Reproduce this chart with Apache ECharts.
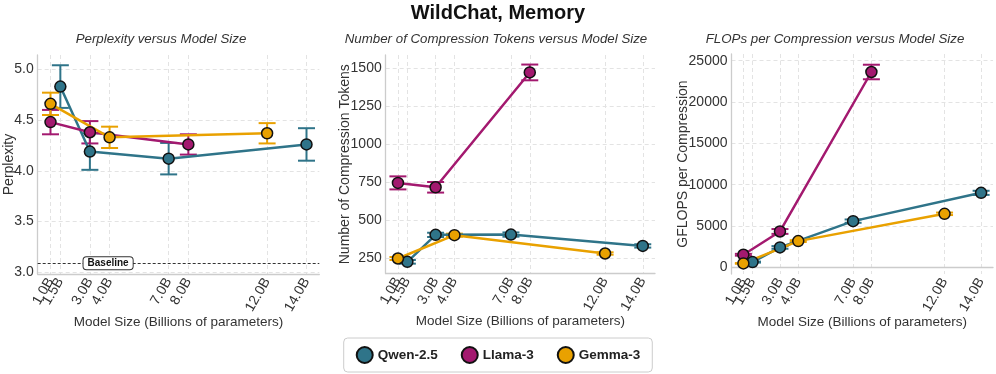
<!DOCTYPE html>
<html><head><meta charset="utf-8">
<script src="https://cdn.jsdelivr.net/npm/echarts@6/dist/echarts.min.js"></script>
<style>html,body{margin:0;padding:0;background:#fff}#c{width:996px;height:374px}</style>
</head><body><div id="c"></div>
<script>
// ---- data ----
const modelNames = ['Qwen-2.5', 'Llama-3', 'Gemma-3'];
const qwenSizes = [1.5, 3, 7, 14];
const llamaSizes = [1, 3, 8];
const gemmaSizes = [1, 4, 12];
const sizeTicks = [1, 1.5, 3, 4, 7, 8, 12, 14];

const qwenPpl = [4.83, 4.19, 4.12, 4.26];
const qwenPplErr = [0.21, 0.18, 0.155, 0.16];
const llamaPpl = [4.48, 4.38, 4.26];
const llamaPplErr = [0.12, 0.11, 0.10];
const gemmaPpl = [4.66, 4.33, 4.37];
const gemmaPplErr = [0.11, 0.105, 0.10];
const baselinePpl = 3.09;

const qwenTok = [224, 402, 404, 329];
const qwenTokErr = [12, 14, 14, 11];
const llamaTok = [745, 716, 1474];
const llamaTokErr = [43, 35, 52];
const gemmaTok = [246, 400, 279];
const gemmaTokErr = [10, 10, 8];

const qwenFlops = [644, 2416, 5596, 9018];
const qwenFlopsErr = [60, 160, 200, 250];
const llamaFlops = [1530, 4348, 23632];
const llamaFlopsErr = [110, 290, 880];
const gemmaFlops = [483, 3181, 6482];
const gemmaFlopsErr = [40, 110, 150];

const pplTicks = [3.0, 3.5, 4.0, 4.5, 5.0];
const tokTicks = [250, 500, 750, 1000, 1250, 1500];
const flopTicks = [0, 5000, 10000, 15000, 20000, 25000];

// ---- styling ----
const colors = {'Qwen-2.5': '#2f7489', 'Llama-3': '#a3196f', 'Gemma-3': '#e9a100'};
const FONT = '"Liberation Sans", Arial, sans-serif';
const TXT = '#333';

function zip(xs, ys, es) { return xs.map((x, i) => [x, ys[i], es[i]]); }

function errRender(color) {
  return function (params, api) {
    const x = api.value(0), y = api.value(1), e = api.value(2);
    const top = api.coord([x, y + e]), bot = api.coord([x, y - e]);
    const cap = 8.5;
    const style = {stroke: color, lineWidth: 2, fill: null};
    return {type: 'group', children: [
      {type: 'line', shape: {x1: top[0], y1: top[1], x2: bot[0], y2: bot[1]}, style: style},
      {type: 'line', shape: {x1: top[0] - cap, y1: top[1], x2: top[0] + cap, y2: top[1]}, style: style},
      {type: 'line', shape: {x1: bot[0] - cap, y1: bot[1], x2: bot[0] + cap, y2: bot[1]}, style: style}
    ]};
  };
}

const panels = [
  {sets: [[qwenSizes, qwenPpl, qwenPplErr], [llamaSizes, llamaPpl, llamaPplErr], [gemmaSizes, gemmaPpl, gemmaPplErr]],
   ymin: 2.984, ymax: 5.141, yticks: pplTicks, yname: 'Perplexity', nameGap: 21.5, fmt: v => v.toFixed(1)},
  {sets: [[qwenSizes, qwenTok, qwenTokErr], [llamaSizes, llamaTok, llamaTokErr], [gemmaSizes, gemmaTok, gemmaTokErr]],
   ymin: 147, ymax: 1589, yticks: tokTicks, yname: 'Number of Compression Tokens', nameGap: 33.5, fmt: v => String(v)},
  {sets: [[qwenSizes, qwenFlops, qwenFlopsErr], [llamaSizes, llamaFlops, llamaFlopsErr], [gemmaSizes, gemmaFlops, gemmaFlopsErr]],
   ymin: -797, ymax: 25809, yticks: flopTicks, yname: 'GFLOPS per Compression', nameGap: 41.5, fmt: v => String(v)}
];

const grids = [
  {left: 37.7, width: 281.6, top: 55, height: 219},
  {left: 385.7, width: 269.3, top: 55, height: 218.5},
  {left: 731.5, width: 261.5, top: 54, height: 220}
];

const labelBase = {rotate: 60, margin: 5, fontFamily: FONT, fontSize: 14, color: TXT,
  hideOverlap: false, interval: 0, formatter: v => v.toFixed(1) + 'B'};

const xAxes = [], overlayAxes = [], yAxes = [], series = [];
panels.forEach((p, gi) => {
  xAxes.push({
    type: 'value', gridIndex: gi, min: 0.35, max: 14.65, position: 'bottom',
    name: 'Model Size (Billions of parameters)', nameLocation: 'middle', nameGap: 41, nameMoveOverlap: false,
    nameTextStyle: {fontFamily: FONT, fontSize: 13.5, color: TXT},
    axisLine: {show: true, lineStyle: {color: '#cccccc', width: 1.3}},
    axisTick: {show: false, customValues: sizeTicks},
    axisLabel: Object.assign({}, labelBase, {customValues: sizeTicks.slice(1), showMinLabel: true, showMaxLabel: true}),
    splitLine: {show: true, lineStyle: {color: '#e3e3e3', type: [4, 3], width: 1}}
  });
  // overlay axis carrying the first (1.0B) tick label, which would otherwise be hidden as overlapping
  overlayAxes.push({
    type: 'value', gridIndex: gi, min: 0.35, max: 14.65, position: 'bottom', offset: 0,
    axisLine: {show: false}, axisTick: {show: false}, splitLine: {show: false},
    axisLabel: Object.assign({}, labelBase, {customValues: sizeTicks.slice(0, 1), showMinLabel: true})
  });
  yAxes.push({
    type: 'value', gridIndex: gi, min: p.ymin, max: p.ymax,
    name: p.yname, nameLocation: 'middle', nameGap: p.nameGap, nameRotate: 90, nameMoveOverlap: false,
    nameTextStyle: {fontFamily: FONT, fontSize: 14, color: TXT},
    axisLine: {show: true, lineStyle: {color: '#cccccc', width: 1.3}},
    axisTick: {show: false, customValues: p.yticks},
    axisLabel: {customValues: p.yticks, margin: 4, fontFamily: FONT, fontSize: 14, color: TXT, formatter: p.fmt},
    splitLine: {show: true, lineStyle: {color: '#e3e3e3', type: [4, 3], width: 1}}
  });
  p.sets.forEach((s, mi) => {
    const name = modelNames[mi];
    const col = colors[name];
    const pts = zip(s[0], s[1], s[2]);
    series.push({
      type: 'custom', name: 'err ' + name, xAxisIndex: gi, yAxisIndex: gi,
      renderItem: errRender(col), data: pts, clip: false, silent: true, z: 2
    });
    const line = {
      type: 'line', name: name, xAxisIndex: gi, yAxisIndex: gi,
      data: pts.map(d => [d[0], d[1]]),
      symbol: 'circle', symbolSize: 11, showSymbol: true, silent: true,
      lineStyle: {color: col, width: 2.5},
      itemStyle: {color: col, borderColor: '#111', borderWidth: 1.5},
      emphasis: {disabled: true}, z: 2, animation: false
    };
    if (gi === 0 && mi === 0) {
      line.markLine = {
        silent: true, symbol: ['none', 'none'], label: {show: false},
        lineStyle: {color: '#333', type: [3, 2], width: 1},
        data: [{yAxis: baselinePpl}]
      };
      line.markPoint = {
        silent: true, symbol: 'rect', symbolSize: [1, 1],
        itemStyle: {color: 'rgba(0,0,0,0)', borderWidth: 0},
        label: {show: true, position: 'inside', formatter: 'Baseline', fontFamily: FONT, fontSize: 10,
          fontWeight: 'bold', color: '#111', backgroundColor: '#fff', borderColor: '#333', borderWidth: 1,
          borderRadius: 3, padding: [1, 4]},
        data: [{coord: [3.925, baselinePpl]}]
      };
    }
    series.push(line);
  });
});

const titles = [
  {text: 'Perplexity versus Model Size', x: 161},
  {text: 'Number of Compression Tokens versus Model Size', x: 496},
  {text: 'FLOPs per Compression versus Model Size', x: 835}
];

const option = {
  animation: false,
  backgroundColor: '#ffffff',
  grid: grids,
  xAxis: xAxes.concat(overlayAxes),
  yAxis: yAxes,
  series: series,
  legend: {
    data: modelNames, left: 'center', top: 338,
    icon: 'circle', itemWidth: 16, itemHeight: 16, itemGap: 23,
    padding: [8, 12], borderColor: '#cccccc', borderWidth: 1, borderRadius: 4, backgroundColor: '#fff',
    textStyle: {fontFamily: FONT, fontSize: 13.5, fontWeight: 'bold', color: '#222'},
    selectedMode: false
  },
  graphic: [
    {type: 'text', left: 'center', top: 3,
     style: {text: 'WildChat, Memory', font: 'bold 20px ' + FONT, fill: '#111'}}
  ].concat(titles.map(t => ({
    type: 'text', x: t.x, y: 39.5,
    style: {text: t.text, font: 'italic 13.3px ' + FONT, fill: '#333', align: 'center', verticalAlign: 'middle'}
  })))
};

const chart = echarts.init(document.getElementById('c'), null, {renderer: 'canvas'});
chart.setOption(option);
</script>
</body></html>
